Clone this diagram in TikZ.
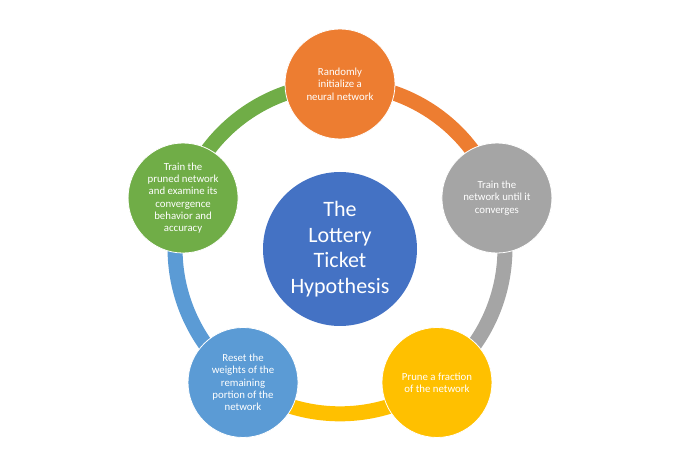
\documentclass[tikz,border=0pt]{standalone}
\usepackage{fontspec}
\setmainfont{Carlito}
\usetikzlibrary{positioning,calc,backgrounds}

\definecolor{hubblue}{HTML}{4472C4}
\definecolor{initorange}{HTML}{ED7D31}
\definecolor{traingray}{HTML}{A5A5A5}
\definecolor{pruneyellow}{HTML}{FFC000}
\definecolor{resetblue}{HTML}{5B9BD5}
\definecolor{retraingreen}{HTML}{70AD47}

\begin{document}
\begin{tikzpicture}[x=1pt,y=1pt,
    stage/.style={circle,draw=white,line width=0.8pt,minimum size=110pt,inner sep=0pt,
        text=white,align=center,font=\fontsize{10.8}{12.3}\selectfont},
    ring/.style={line width=15pt,bend left=36,looseness=0.94}]
    \useasboundingbox (0,0) rectangle (675,471);

    % Hypothesis in the middle
    \node[circle,fill=hubblue,minimum size=154pt,inner sep=0pt,text=white,align=center,
        font=\fontsize{22}{25.6}\selectfont] (hub) at (340,222) {The\\Lottery\\Ticket\\Hypothesis};

    % The five steps round the cycle
    \node[stage,fill=initorange] (init) at ($(hub)+(90:165)$) {Randomly\\initialize a\\neural network};
    \node[stage,fill=traingray] (train) at ($(hub)+(18:165)$) {Train the\\network until it\\converges};
    \node[stage,fill=pruneyellow] (prune) at ($(hub)+(-54:165)$) {Prune a fraction\\of the network};
    \node[stage,fill=resetblue] (reset) at ($(hub)+(-126:165)$) {Reset the\\weights of the\\remaining\\portion of the\\network};
    \node[stage,fill=retraingreen] (retrain) at ($(hub)+(162:165)$) {Train the\\pruned network\\and examine its\\convergence\\behavior and\\accuracy};

    % Ring segments
    \begin{scope}[on background layer]
        \draw[ring,initorange] (init.center) to (train.center);
        \draw[ring,traingray] (train.center) to (prune.center);
        \draw[ring,pruneyellow] (prune.center) to (reset.center);
        \draw[ring,resetblue] (reset.center) to (retrain.center);
        \draw[ring,retraingreen] (retrain.center) to (init.center);
    \end{scope}
\end{tikzpicture}
\end{document}
